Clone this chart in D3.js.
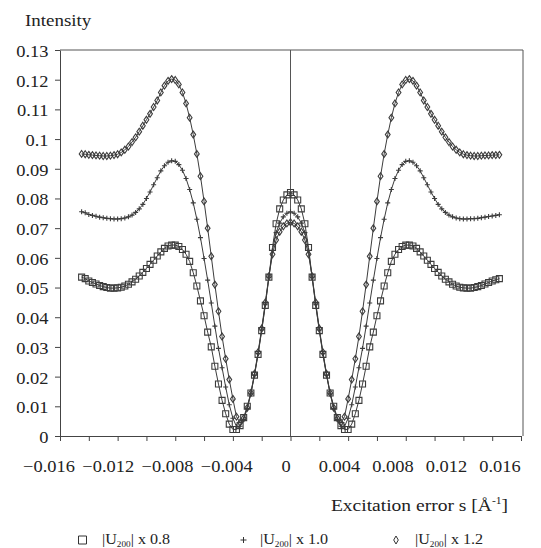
<!DOCTYPE html>
<html>
<head>
<meta charset="utf-8">
<script src="https://cdn.jsdelivr.net/npm/d3@7"></script>
<style>
  html, body { margin: 0; padding: 0; background: #fff; }
  svg text { font-family: "Liberation Serif", "Times New Roman", serif; fill: #222; }
</style>
</head>
<body>
<div id="chart"></div>
<script>
// --- DATA ---
const excitationError = [
  -0.0145, -0.01425, -0.014, -0.01375, -0.0135, -0.01325, -0.013, -0.01275, -0.0125, -0.01225,
  -0.012, -0.01175, -0.0115, -0.01125, -0.011, -0.01075, -0.0105, -0.01025, -0.01, -0.00975,
  -0.0095, -0.00925, -0.009, -0.00875, -0.0085, -0.00825, -0.008, -0.00775, -0.0075, -0.00725,
  -0.007, -0.00675, -0.0065, -0.00625, -0.006, -0.00575, -0.0055, -0.00525, -0.005, -0.00475,
  -0.0045, -0.00425, -0.004, -0.00375, -0.0035, -0.00325, -0.003, -0.00275, -0.0025, -0.00225,
  -0.002, -0.00175, -0.0015, -0.00125, -0.001, -0.00075, -0.0005, -0.00025,
  0,
  0.00025, 0.0005, 0.00075, 0.001, 0.00125, 0.0015, 0.00175, 0.002, 0.00225, 0.0025,
  0.00275, 0.003, 0.00325, 0.0035, 0.00375, 0.004, 0.00425, 0.0045, 0.00475, 0.005,
  0.00525, 0.0055, 0.00575, 0.006, 0.00625, 0.0065, 0.00675, 0.007, 0.00725, 0.0075,
  0.00775, 0.008, 0.00825, 0.0085, 0.00875, 0.009, 0.00925, 0.0095, 0.00975, 0.01,
  0.01025, 0.0105, 0.01075, 0.011, 0.01125, 0.0115, 0.01175, 0.012, 0.01225, 0.0125,
  0.01275, 0.013, 0.01325, 0.0135, 0.01375, 0.014, 0.01425, 0.0145
];

// |U200| x 0.8 (squares)
const intensityU08 = [
  .0535, .0530, .0522, .0517, .0512, .0507, .0503, .0500, .0498, .0498,
  .0499, .0501, .0505, .0511, .0519, .0528, .0539, .0551, .0564, .0578,
  .0592, .0606, .0620, .0632, .0640, .0643, .0643, .0638, .0628, .0612,
  .0588, .0550, .0505, .0455, .0405, .0350, .0300, .0235, .0175, .0120,
  .0075, .0040, .0022, .0022, .0035, .0062, .0100, .0145, .0205, .0275,
  .0355, .0440, .0535, .0635, .0715, .0765, .0795, .0812,
  .0820,
  .0812, .0795, .0765, .0715, .0635, .0535, .0440, .0355, .0275, .0205,
  .0145, .0100, .0062, .0035, .0022, .0022, .0040, .0075, .0120, .0175,
  .0235, .0300, .0350, .0405, .0455, .0505, .0550, .0588, .0612, .0628,
  .0638, .0643, .0643, .0640, .0632, .0620, .0606, .0592, .0578, .0564,
  .0551, .0539, .0528, .0519, .0511, .0505, .0501, .0499, .0498, .0498,
  .0500, .0503, .0507, .0512, .0517, .0522, .0526, .0530
];

// |U200| x 1.0 (plus)
const intensityU10 = [
  .0755, .0752, .0746, .0743, .0740, .0737, .0735, .0733, .0732, .0731,
  .0731, .0732, .0734, .0738, .0744, .0753, .0765, .0780, .0800, .0822,
  .0846, .0870, .0893, .0910, .0922, .0927, .0925, .0914, .0895, .0867,
  .0830, .0785, .0730, .0668, .0598, .0525, .0448, .0370, .0295, .0230,
  .0165, .0105, .0060, .0032, .0033, .0055, .0093, .0142, .0205, .0278,
  .0357, .0442, .0535, .0625, .0685, .0717, .0738, .0750,
  .0755,
  .0750, .0738, .0717, .0685, .0625, .0535, .0442, .0357, .0278, .0205,
  .0142, .0093, .0055, .0033, .0032, .0060, .0105, .0165, .0230, .0295,
  .0370, .0448, .0525, .0598, .0668, .0730, .0785, .0830, .0867, .0895,
  .0914, .0925, .0927, .0922, .0910, .0893, .0870, .0846, .0822, .0800,
  .0780, .0765, .0753, .0744, .0738, .0734, .0732, .0731, .0731, .0732,
  .0732, .0733, .0735, .0737, .0739, .0741, .0743, .0745
];

// |U200| x 1.2 (diamonds)
const intensityU12 = [
  .0950, .0949, .0947, .0946, .0945, .0944, .0943, .0943, .0944, .0946,
  .0949, .0955, .0964, .0975, .0990, .1006, .1025, .1045, .1065, .1085,
  .1108, .1130, .1157, .1180, .1196, .1202, .1199, .1184, .1157, .1120,
  .1072, .1015, .0950, .0875, .0790, .0700, .0605, .0510, .0420, .0335,
  .0260, .0190, .0125, .0065, .0045, .0060, .0095, .0145, .0210, .0282,
  .0362, .0450, .0538, .0612, .0660, .0688, .0706, .0716,
  .0720,
  .0716, .0706, .0688, .0660, .0612, .0538, .0450, .0362, .0282, .0210,
  .0145, .0095, .0060, .0045, .0065, .0125, .0190, .0260, .0335, .0420,
  .0510, .0605, .0700, .0790, .0875, .0950, .1015, .1072, .1120, .1157,
  .1184, .1199, .1202, .1196, .1180, .1157, .1130, .1108, .1085, .1065,
  .1045, .1025, .1006, .0990, .0975, .0964, .0955, .0949, .0946, .0944,
  .0943, .0943, .0944, .0945, .0945, .0946, .0946, .0947
];

const xTickValues = [-0.016, -0.014, -0.012, -0.01, -0.008, -0.006, -0.004, -0.002, 0,
  0.002, 0.004, 0.006, 0.008, 0.01, 0.012, 0.014, 0.016];
const xLabelValues = [-0.016, -0.012, -0.008, -0.004, 0, 0.004, 0.008, 0.012, 0.016];
const xLabelTexts = ["\u22120.016", "\u22120.012", "\u22120.008", "\u22120.004", "0", "0.004", "0.008", "0.012", "0.016"];
const yTickValues = [0, 0.01, 0.02, 0.03, 0.04, 0.05, 0.06, 0.07, 0.08, 0.09, 0.1, 0.11, 0.12, 0.13];
const yTickTexts = ["0", "0.01", "0.02", "0.03", "0.04", "0.05", "0.06", "0.07", "0.08", "0.09", "0.1", "0.11", "0.12", "0.13"];
const seriesFactors = ["0.8", "1.0", "1.2"];

// --- LAYOUT ---
const W = 541, H = 548;
const INK = "#3c3c3c";
const STRETCH = 1.15;   // the scanned lettering is wider than plain Times

const svg = d3.select("#chart").append("svg")
  .attr("width", W).attr("height", H)
  .attr("viewBox", `0 0 ${W} ${H}`);

const x = d3.scaleLinear().domain([-0.016, 0.016]).range([60, 521]);
const y = d3.scaleLinear().domain([0, 0.13]).range([436, 50]);
// labels in the figure sit a little off their ticks
const xLabelPos = d3.scaleLinear().domain([-0.016, 0, 0.016]).range([49, 286, 500]);

function stretchText(g, px, py, size, anchor) {
  return g.append("text")
    .attr("transform", `translate(${px},${py}) scale(${STRETCH},1)`)
    .attr("font-size", size)
    .attr("text-anchor", anchor);
}

// frame and zero line
svg.append("path")
  .attr("d", `M${x(-0.016)},${y(0.13)}H${x(0.016) + 2}V${y(0)}`)
  .attr("fill", "none").attr("stroke", "#555").attr("stroke-width", 1);
svg.append("line")
  .attr("x1", x(0)).attr("x2", x(0))
  .attr("y1", y(0.13)).attr("y2", y(0))
  .attr("stroke", "#555").attr("stroke-width", 1);

// axes
const xAxis = svg.append("g")
  .attr("transform", `translate(0,${y(0)})`)
  .call(d3.axisBottom(x).tickValues(xTickValues).tickSize(5).tickSizeOuter(0).tickFormat(""));
const yAxis = svg.append("g")
  .attr("transform", `translate(${x(-0.016)},0)`)
  .call(d3.axisLeft(y).tickValues(yTickValues).tickSize(5).tickSizeOuter(0).tickPadding(5)
    .tickFormat((d, i) => yTickTexts[i]));
[xAxis, yAxis].forEach(a => {
  a.select(".domain").attr("stroke", "#444");
  a.selectAll(".tick line").attr("stroke", "#444");
});
yAxis.selectAll(".tick text")
  .attr("font-family", "Liberation Serif, serif")
  .attr("font-size", 16)
  .attr("fill", "#222")
  .attr("dy", "0.4em")
  .attr("transform", `scale(${STRETCH},1)`);

xLabelValues.forEach((v, i) => {
  stretchText(svg, xLabelPos(v), 472, 16, "middle").text(xLabelTexts[i]);
});

// axis titles
stretchText(svg, 25, 26, 16.5, "start").text("Intensity");
const xt = stretchText(svg, 508, 511, 17, "end");
xt.append("tspan").text("Excitation error s [\u00C5");
xt.append("tspan").attr("font-size", 10).attr("dy", -7).text("-1");
xt.append("tspan").attr("dy", 7).text("]");

// --- SERIES ---
const series = [
  { values: intensityU08, symbol: "square" },
  { values: intensityU10, symbol: "plus" },
  { values: intensityU12, symbol: "diamond" }
];

function markerPath(kind, s) {
  const h = s / 2;
  if (kind === "square") return `M${-h},${-h}h${s}v${s}h${-s}Z`;
  if (kind === "plus") return `M${-h},0h${s}M0,${-h}v${s}`;
  return `M0,${-h * 1.15}L${h * 0.8},0L0,${h * 1.15}L${-h * 0.8},0Z`;
}

const line = d3.line()
  .x((d, i) => x(excitationError[i]))
  .y(d => y(d));

const plot = svg.append("g");
series.forEach(sr => {
  plot.append("path")
    .datum(sr.values)
    .attr("d", line)
    .attr("fill", "none")
    .attr("stroke", INK)
    .attr("stroke-width", 1);
});
series.forEach(sr => {
  plot.append("g").selectAll("path")
    .data(sr.values)
    .join("path")
    .attr("transform", (d, i) => `translate(${x(excitationError[i])},${y(d)})`)
    .attr("d", markerPath(sr.symbol, sr.symbol === "plus" ? 5 : 6))
    .attr("fill", "none")
    .attr("stroke", INK)
    .attr("stroke-width", 1.1);
});

// --- LEGEND ---
const legendItems = [
  { symbol: "square", gx: 82.5, tx: 102, size: 8 },
  { symbol: "plus", gx: 243.5, tx: 260, size: 6 },
  { symbol: "diamond", gx: 396, tx: 415, size: 7 }
];
legendItems.forEach((it, i) => {
  svg.append("path")
    .attr("transform", `translate(${it.gx},540)`)
    .attr("d", it.symbol === "diamond"
      ? `M0,-4L2.3,0L0,4L-2.3,0Z`
      : markerPath(it.symbol, it.size))
    .attr("fill", "none")
    .attr("stroke", "#333")
    .attr("stroke-width", 1);
  const t = stretchText(svg, it.tx, 544, 14, "start");
  t.append("tspan").text("|U");
  t.append("tspan").attr("font-size", 8).attr("dy", 3).text("200");
  t.append("tspan").attr("dy", -3).text("| x " + seriesFactors[i]);
});
</script>
</body>
</html>
